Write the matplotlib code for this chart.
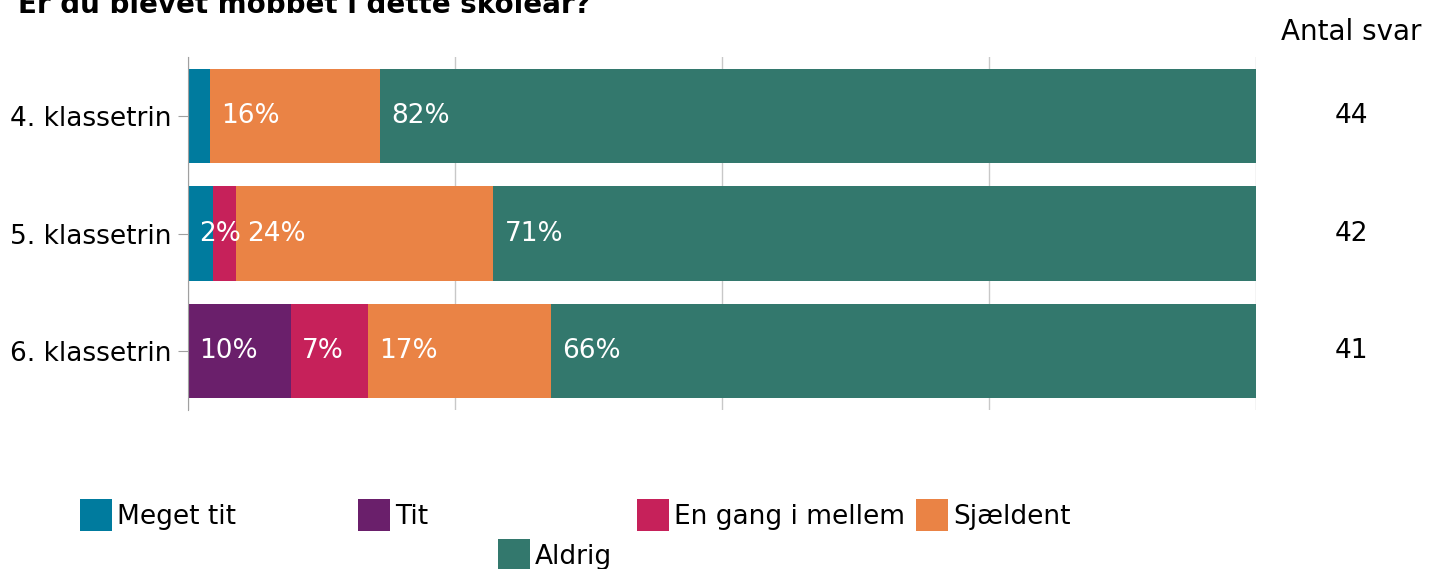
import matplotlib
matplotlib.use("Agg")
import matplotlib.pyplot as plt
import matplotlib.transforms as mtransforms
from matplotlib.patches import Patch

grades = ["4. klassetrin", "5. klassetrin", "6. klassetrin"]
n_answers = [44, 42, 41]
categories = ["Meget tit", "Tit", "En gang i mellem", "Sjældent", "Aldrig"]
colors = ["#007b9e", "#6a1f6b", "#c6215a", "#ea8345", "#33786d"]

# percent of answers per grade
meget_tit = [2.1, 2.3, 0.0]
tit = [0.0, 0.0, 9.6]
en_gang = [0.0, 2.2, 7.3]
sjaeldent = [15.9, 24.1, 17.1]
aldrig = [82.0, 71.4, 66.0]

# which segments get a percent label (the report skips some of the tiny ones)
show_label = [
    [False, False, False, True, True],
    [True, False, False, True, True],
    [False, True, True, True, True],
]

W, H = 1429, 569
FS = 19

plt.rcParams["font.family"] = ["DejaVu Sans"]

fig = plt.figure(figsize=(W / 100, H / 100), dpi=100)
ax = fig.add_axes([188 / W, 1 - 410 / H, 1068 / W, 353 / H])

series = [meget_tit, tit, en_gang, sjaeldent, aldrig]
ypos = list(range(len(grades)))
left = [0.0] * len(grades)
for k, (vals, col) in enumerate(zip(series, colors)):
    ax.barh(ypos, vals, left=left, height=0.8, color=col, zorder=2)
    for i, v in enumerate(vals):
        if v > 0 and show_label[i][k]:
            ax.annotate(f"{round(v)}%", (left[i], i), xytext=(7.9, 0),
                        textcoords="offset points", ha="left", va="center",
                        color="white", fontsize=FS, zorder=3)
    left = [a + b for a, b in zip(left, vals)]

ax.set_xlim(0, 100)
ax.set_ylim(2.5, -0.5)
ax.set_xticks([0, 25, 50, 75, 100])
ax.xaxis.grid(True, color="#c8c8c8", linewidth=1, zorder=0)
ax.tick_params(axis="x", length=0, labelbottom=False)
ax.set_yticks(ypos)
ax.set_yticklabels(grades, fontsize=FS)
ax.tick_params(axis="y", length=7.5, color="#a0a0a0", pad=4.5)
for s in ["top", "right", "bottom"]:
    ax.spines[s].set_visible(False)
ax.spines["left"].set_color("#a0a0a0")

# answer counts to the right of the bars
trans = mtransforms.blended_transform_factory(ax.transAxes, ax.transData)
xcount = (1351 - 188) / 1068
for i, n in enumerate(n_answers):
    ax.text(xcount, i, str(n), transform=trans, ha="center", va="center",
            fontsize=FS, clip_on=False)
fig.text(1351 / W, 1 - 32 / H, "Antal svar", ha="center", va="center", fontsize=20)

fig.text(18 / W, 1 - 13 / H, "Er du blevet mobbet i dette skoleår?",
         ha="left", va="baseline", fontsize=20, fontweight="bold")

# legend laid out like the report: four in a row, the last one centred below
spots = [(80, 499), (358, 499), (637, 499), (916, 499), (498, 539)]
for cat, col, (x, y) in zip(categories, colors, spots):
    fig.legend(handles=[Patch(facecolor=col)], labels=[cat],
               loc="upper left", bbox_to_anchor=(x / W, 1 - y / H),
               frameon=False, fontsize=FS, borderpad=0, borderaxespad=0,
               handlelength=1.21, handleheight=1.48, handletextpad=0.2)

fig.savefig("out.png", dpi=100)
